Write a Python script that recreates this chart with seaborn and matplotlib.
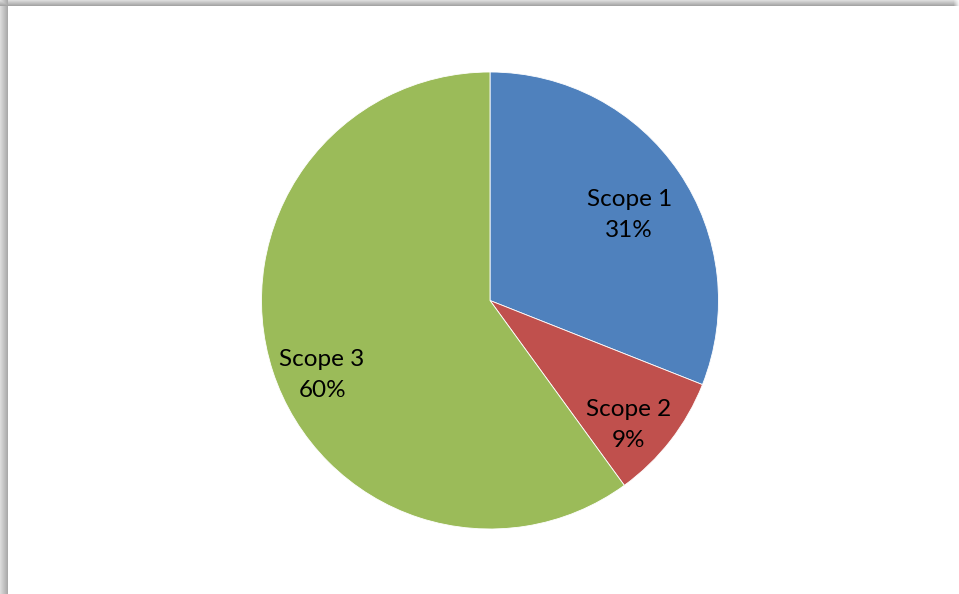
import numpy as np
import matplotlib
matplotlib.use("Agg")
import matplotlib.pyplot as plt
import seaborn as sns

categories = ["Scope 1", "Scope 2", "Scope 3"]
shares = [31, 9, 60]
colors = ["#4F81BD", "#C0504D", "#9BBB59"]

sns.set_theme(style="white")
plt.rcParams["font.family"] = ["Lato", "DejaVu Sans"]

W, H, DPI = 959, 594, 100
fig = plt.figure(figsize=(W / DPI, H / DPI), dpi=DPI)
fig.patch.set_facecolor("white")

# soft frame shadow along the top and left edges
bg = np.ones((H, W, 3))
top = 6
left = 8
for i in range(top):
    v = 0.86 - 0.21 * (i / (top - 1))
    bg[i, :, :] = v
for j in range(left):
    v = 0.86 - 0.19 * (j / (left - 1))
    bg[:, j, :] = np.minimum(bg[:, j, :], v)
# fade the shadow out toward the top-right corner
fade = np.clip((W - np.arange(W)) / 6.0, 0, 1)
bg[:top, :, :] = 1 - (1 - bg[:top, :, :]) * fade[None, :, None]
bg[top:, left:, :] = 1.0
fig.figimage(bg, xo=0, yo=0, origin="upper", zorder=-5)

# pie area: centre (490, 300.5) px, radius 228.5 px
cx, cy, r = 490, 300.5, 228.5
ax = fig.add_axes([(cx - r) / W, (H - cy - r) / H, 2 * r / W, 2 * r / H])
ax.set_zorder(5)
ax.set_facecolor("none")

wedges, _ = ax.pie(
    shares,
    colors=colors,
    startangle=90,
    counterclock=False,
    radius=1.0,
    wedgeprops=dict(edgecolor="white", linewidth=0.6),
)
ax.set_xlim(-1, 1)
ax.set_ylim(-1, 1)
ax.set_aspect("equal")
ax.axis("off")

# label placement: radial distance and angular nudge per wedge
label_dist = [0.72, 0.81, 0.80]
angle_nudge = [-2.0, -3.6, 5.3]
for w, name, val, d, da in zip(wedges, categories, shares, label_dist, angle_nudge):
    mid = np.deg2rad((w.theta1 + w.theta2) / 2 + da)
    ax.text(d * np.cos(mid), d * np.sin(mid) - 0.01, f"{name}\n{val}%",
            ha="center", va="center", fontsize=17.5, color="black",
            linespacing=1.6)

fig.savefig("out.png", dpi=DPI)
